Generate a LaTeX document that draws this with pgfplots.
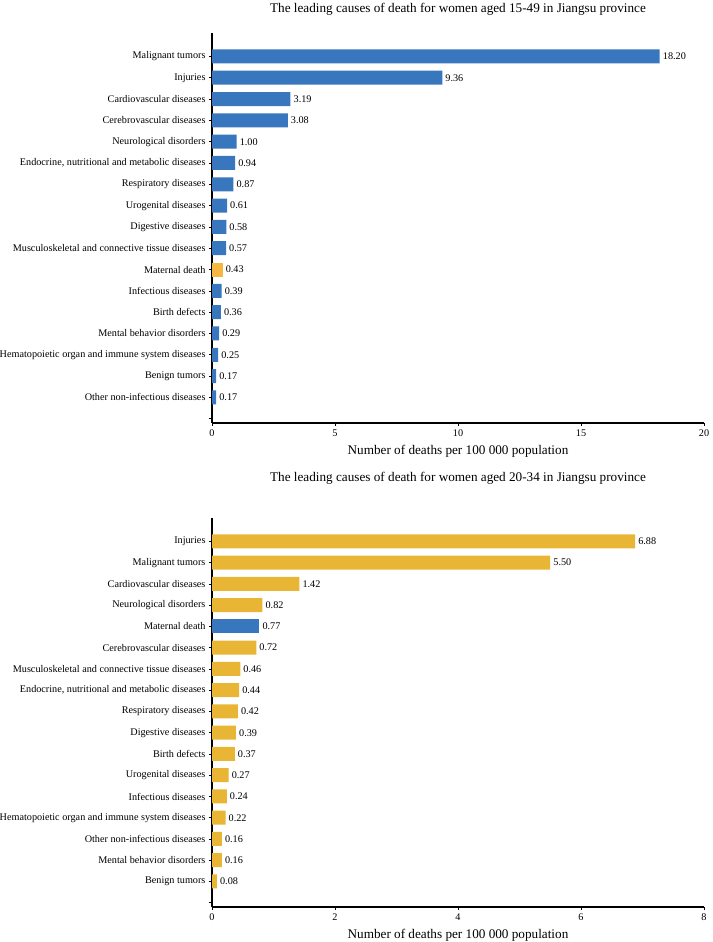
\documentclass[border=0pt]{standalone}
\usepackage{fontspec}
\setmainfont{Liberation Serif}
\usepackage{pgfplots}
\pgfplotsset{compat=1.18}
\definecolor{cblue}{RGB}{56,119,189}
\definecolor{cyelA}{RGB}{246,182,66}
\definecolor{cyelB}{RGB}{232,181,52}
\pgfplotsset{
  causes/.style={
    scale only axis, width=492pt, height=390pt,
    xbar, bar width=14pt, bar shift=0pt,
    y dir=reverse, ymin=-0.1, ymax=18.2,
    axis lines=left, axis line style={line width=1.2pt,-},
    ytick={1,...,18}, xmin=0,
    tick align=outside, major tick length=3pt,
    tick style={black,line width=0.7pt},
    ticklabel style={font=\fontsize{10.2}{12}\selectfont},
    /pgf/number format/assume math mode=true,
    point meta=x,
    nodes near coords={\pgfmathprintnumber[fixed,fixed zerofill,precision=2]{\pgfplotspointmeta}},
    nodes near coords style={font=\fontsize{10.2}{12}\selectfont, anchor=west, inner sep=0pt, xshift=3pt},
    xlabel={Number of deaths per 100 000 population},
    xlabel style={font=\fontsize{13.2}{15}\selectfont, at={(axis description cs:0.5,0)}, anchor=center, inner sep=0pt, yshift=-28pt},
    every axis title shift=0pt,
    title style={font=\fontsize{13.2}{15}\selectfont, anchor=center, inner sep=0pt},
    clip=false,
  }
}
\begin{document}
\begin{tikzpicture}
\path[use as bounding box] (0,0) rectangle (712pt,942pt);
\begin{axis}[causes, at={(212pt,519pt)}, anchor=south west,
  xmax=20, xtick={0,5,10,15,20},
  title={The leading causes of death for women aged 15-49 in Jiangsu province},
  title style={at={(axis description cs:0.5,1)}, yshift=24pt},
  yticklabels={Malignant tumors, Injuries, Cardiovascular diseases, Cerebrovascular diseases, Neurological disorders, {Endocrine, nutritional and metabolic diseases}, Respiratory diseases, Urogenital diseases, Digestive diseases, Musculoskeletal and connective tissue diseases, Maternal death, Infectious diseases, Birth defects, Mental behavior disorders, Hematopoietic organ and immune system diseases, Benign tumors, Other non-infectious diseases, {}},
]
\addplot[fill=cblue, draw=none] coordinates {
(18.20,1) (9.36,2) (3.19,3) (3.08,4) (1.00,5) (0.94,6) (0.87,7) (0.61,8) (0.58,9) (0.57,10)
(0.39,12) (0.36,13) (0.29,14) (0.25,15) (0.17,16) (0.17,17)};
\addplot[fill=cyelA, draw=none] coordinates {(0.43,11)};
\end{axis}
\begin{axis}[causes, at={(212pt,35pt)}, anchor=south west, height=389pt,
  xmax=8, xtick={0,2,4,6,8},
  title={The leading causes of death for women aged 20-34 in Jiangsu province},
  title style={at={(axis description cs:0.5,1)}, yshift=40pt},
  yticklabels={Injuries, Malignant tumors, Cardiovascular diseases, Neurological disorders, Maternal death, Cerebrovascular diseases, Musculoskeletal and connective tissue diseases, {Endocrine, nutritional and metabolic diseases}, Respiratory diseases, Digestive diseases, Birth defects, Urogenital diseases, Infectious diseases, Hematopoietic organ and immune system diseases, Other non-infectious diseases, Mental behavior disorders, Benign tumors, {}},
]
\addplot[fill=cyelB, draw=none] coordinates {
(6.88,1) (5.50,2) (1.42,3) (0.82,4) (0.72,6) (0.46,7) (0.44,8) (0.42,9) (0.39,10)
(0.37,11) (0.27,12) (0.24,13) (0.22,14) (0.16,15) (0.16,16) (0.08,17)};
\addplot[fill=cblue, draw=none] coordinates {(0.77,5)};
\end{axis}
\end{tikzpicture}
\end{document}
